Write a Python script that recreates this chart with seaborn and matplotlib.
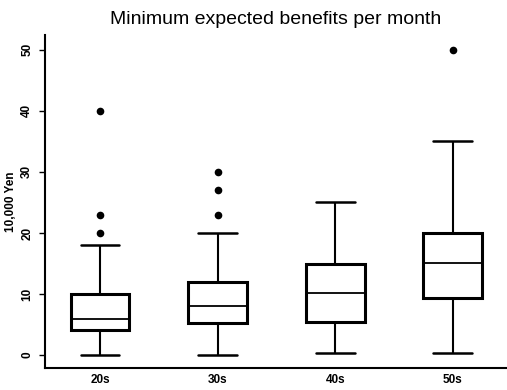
import matplotlib
matplotlib.use("Agg")
import matplotlib.pyplot as plt
import seaborn as sns
import pandas as pd

# Five-number summaries: lower whisker, Q1, median, Q3, upper whisker
groups = ["20s", "30s", "40s", "50s"]
summary_20s = [0.0, 4.2, 6.0, 10.0, 18.0]
summary_30s = [0.1, 5.3, 8.0, 12.0, 20.0]
summary_40s = [0.3, 5.4, 10.1, 15.0, 25.0]
summary_50s = [0.3, 9.3, 15.1, 20.0, 35.1]
# Outliers
out_groups = ["20s", "20s", "20s", "30s", "30s", "30s", "50s"]
out_values = [20.0, 23.0, 40.0, 23.0, 27.0, 30.0, 50.0]

yticks = [0, 10, 20, 30, 40, 50]
title = "Minimum expected benefits per month"
ylabel = "10,000 Yen"

sns.set_theme(style="white")
plt.rcParams["font.family"] = ["Liberation Sans", "DejaVu Sans"]
plt.rcParams["text.color"] = "black"
plt.rcParams["axes.labelcolor"] = "black"
plt.rcParams["xtick.color"] = "black"
plt.rcParams["ytick.color"] = "black"

rows = []
for g, s in zip(groups, [summary_20s, summary_30s, summary_40s, summary_50s]):
    for v in s:
        rows.append({"group": g, "value": v})
df = pd.DataFrame(rows)
df_out = pd.DataFrame({"group": out_groups, "value": out_values})

fig = plt.figure(figsize=(5.07, 3.90), dpi=100)
ax = fig.add_axes([0.0888, 0.0564, 0.9112, 0.854])

sns.boxplot(data=df, x="group", y="value", order=groups, ax=ax,
            width=0.5, color="white", linecolor="black", linewidth=1.5,
            showfliers=False, whis=1.5,
            boxprops=dict(linewidth=2.2),
            medianprops=dict(linewidth=1.3),
            capprops=dict(linewidth=1.8),
            capwidths=0.33)
sns.stripplot(data=df_out, x="group", y="value", order=groups, ax=ax,
              jitter=False, color="black", size=5.5, linewidth=0)

ax.set_xlim(-0.467, 3.46)
ax.set_ylim(-2.1, 52.4)
ax.set_yticks(yticks)
ax.set_yticklabels([str(t) for t in yticks], rotation=90, va="center",
                   fontsize=8.5, fontweight="bold")
ax.set_xticks(range(len(groups)))
ax.set_xticklabels(groups, fontsize=8.5, fontweight="bold")
ax.tick_params(axis="y", left=True, length=4, width=1, pad=4.5, color="black")
ax.tick_params(axis="x", bottom=False, length=0, pad=4)
ax.set_xlabel("")
ax.set_ylabel(ylabel, fontsize=8.5, fontweight="bold", labelpad=3)
ax.set_title(title, fontsize=14, pad=8, color="black")

for side in ["top", "right"]:
    ax.spines[side].set_visible(False)
for side in ["left", "bottom"]:
    ax.spines[side].set_color("black")
    ax.spines[side].set_linewidth(1.5)
ax.grid(False)

fig.savefig("out.png", dpi=100)
